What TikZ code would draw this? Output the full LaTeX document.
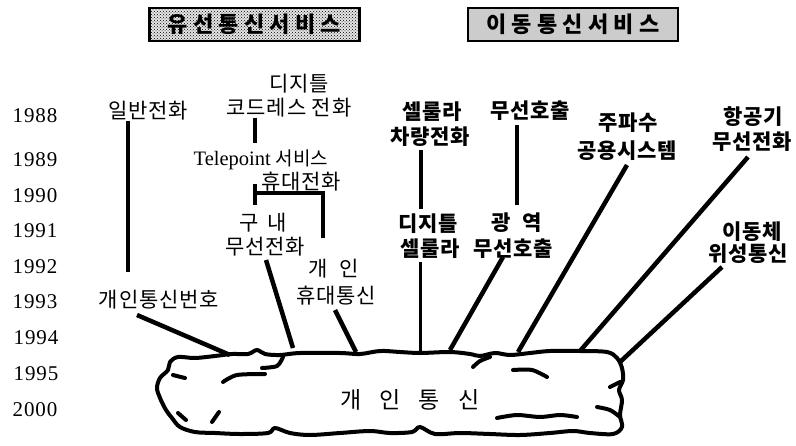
\documentclass[tikz,border=0pt]{standalone}
\usepackage{fontspec}
\setmainfont{Liberation Serif}
\newfontfamily\kr{Noto Sans CJK KR}
\usetikzlibrary{patterns}
\tikzset{
  yr/.style={font=\fontsize{21}{24}\selectfont\addfontfeatures{LetterSpace=4}, inner sep=0pt},
  lbl/.style={font=\kr\fontsize{21}{25}\selectfont\addfontfeatures{LetterSpace=4}, inner sep=0pt},
  blbl/.style={font=\kr\bfseries\fontsize{21}{25}\selectfont\addfontfeatures{LetterSpace=4}, inner sep=0pt},
  conn/.style={line width=4.5pt},
  thinconn/.style={line width=3pt},
  cloudline/.style={line width=4pt, line join=round, line cap=round},
  hdrbox/.style={draw, line width=2.5pt, minimum width=210pt, minimum height=33pt, inner sep=0pt,
    font=\kr\bfseries\fontsize{22}{26}\selectfont\addfontfeatures{LetterSpace=24}},
}
\begin{document}
\begin{tikzpicture}[x=1pt,y=-1pt]
\useasboundingbox (0,0) rectangle (796,445);

% headers
\node[hdrbox, fill=black!10, postaction={pattern=crosshatch dots}] (hdr1) at (254.5,24.5) {유선통신서비스};
\node[hdrbox, fill=black!20] (hdr2) at (573,24.5) {이동통신서비스};

% years
\node[yr] (y1988) at (35,116) {1988};
\node[yr] (y1989) at (35,160) {1989};
\node[yr] (y1990) at (35,196) {1990};
\node[yr] (y1991) at (35,231) {1991};
\node[yr] (y1992) at (35,267) {1992};
\node[yr] (y1993) at (35,302) {1993};
\node[yr] (y1994) at (36,338) {1994};
\node[yr] (y1995) at (36,374) {1995};
\node[yr] (y2000) at (35,410) {2000};

% wired-side labels
\node[lbl] (ilban) at (148,111) {일반전화};
\node[lbl] (digital1) at (299,84) {디지틀};
\node[lbl] (cordless) at (289,108) {코드레스 전화};
\node[font=\fontsize{20.5}{24}\selectfont, inner sep=0pt] (telepoint) at (261,160) {Telepoint {\kr\fontsize{19}{22}\selectfont 서비스}};
\node[lbl] (hyudae) at (301,182) {휴대전화};
\node[lbl] (gunae) at (263,223) {구\hspace{9pt}내};
\node[lbl] (wireless1) at (265,247) {무선전화};
\node[lbl] (gaein) at (334,269) {개\hspace{12pt}인};
\node[lbl] (hyudaetong) at (336,296) {휴대통신};
\node[lbl] (pnum) at (159,300) {개인통신번호};

% mobile-side labels
\node[blbl] (cellular1) at (432,112) {셀룰라};
\node[blbl] (car) at (430,137) {차량전화};
\node[blbl] (digital2) at (428,224) {디지틀};
\node[blbl] (cellular2) at (430,249) {셀룰라};
\node[blbl] (paging) at (530,111) {무선호출};
\node[blbl] (wide) at (517,223) {광\hspace{12pt}역};
\node[blbl] (paging2) at (513,249) {무선호출};
\node[blbl] (trunk1) at (628,123) {주파수};
\node[blbl] (trunk2) at (627,151) {공용시스템};
\node[blbl] (air1) at (753,117) {항공기};
\node[blbl] (air2) at (752,142) {무선전화};
\node[blbl] (sat1) at (752,232) {이동체};
\node[blbl] (sat2) at (748,254) {위성통신};

% cloud
\draw[cloudline] plot[smooth cycle, tension=0.55] coordinates {
 (170,362) (178,357) (195,358) (215,356) (232,354) (248,354) (257,350) (265,354)
 (280,355) (300,353) (340,353) (360,354) (380,351) (400,352) (420,353) (450,352)
 (470,354) (480,356) (495,353) (510,355) (530,353) (550,351) (580,351) (607,352)
 (617,358) (622,368) (623,380) (619,390) (622,400) (620,415) (622,427) (613,434)
 (590,433) (573,431) (550,433) (520,435) (490,434) (460,433) (435,434) (420,427)
 (412,432) (390,433) (370,431) (340,433) (310,435) (290,433) (275,428) (268,433)
 (240,434) (215,433) (195,432) (180,427) (172,418) (166,410) (160,398) (157,388)
 (160,378) (168,370)};
\draw[cloudline] plot[smooth, tension=0.5] coordinates {(223,382) (237,375) (265,374)};
\draw[cloudline] plot[smooth, tension=0.5] coordinates {(262,368) (277,366) (283,357)};
\draw[cloudline] (173,375) -- (185,378);
\draw[cloudline] (178,413) -- (186,420);
\draw[cloudline] (219,412) -- (212,422);
\draw[cloudline] plot[smooth, tension=0.5] coordinates {(473,367) (480,361) (490,357)};
\draw[cloudline] plot[smooth, tension=0.5] coordinates {(513,370) (532,370) (547,377)};
\draw[cloudline] plot[smooth, tension=0.5] coordinates {(497,418) (517,415) (540,417) (560,415) (577,417)};
\draw[cloudline] plot[smooth, tension=0.5] coordinates {(597,407) (610,410) (620,417)};
\draw[cloudline] (610,387) -- (620,382);
\node[font=\kr\fontsize{23}{26}\selectfont, inner sep=0pt] (pcs) at (410,400)
  {개\hspace{18pt}인\hspace{18pt}통\hspace{18pt}신};

% connector end points
\coordinate (ilbanEnd) at (128,272);
\coordinate (cordEnd) at (255,143);
\coordinate (tpTickTop) at (255,184);
\coordinate (tpTickBot) at (255,205);
\coordinate (tpL) at (255,193);
\coordinate (tpR) at (323,193);
\coordinate (tpRend) at (323,238);
\coordinate (w1Start) at (266,260);
\coordinate (w1End) at (293,348);
\coordinate (htStart) at (335,310);
\coordinate (htEnd) at (356,352);
\coordinate (pnStart) at (137,315);
\coordinate (pnEnd) at (230,355);
\coordinate (carX) at (421,0);
\coordinate (cellEnd) at (420,352);
\coordinate (pagX) at (517,0);
\coordinate (p2Start) at (503,257);
\coordinate (p2End) at (450,350);
\coordinate (trStart) at (627,165);
\coordinate (trEnd) at (518,352);
\coordinate (airStart) at (748,157);
\coordinate (airEnd) at (580,351);
\coordinate (satStart) at (722,267);
\coordinate (satEnd) at (620,362);

% connectors
\draw[line width=4pt] (ilban.south -| ilbanEnd) -- (ilbanEnd);
\draw[line width=4pt] (cordless.south -| cordEnd) -- (cordEnd);
\draw[line width=4pt] (tpTickTop) -- (tpTickBot);
\draw[line width=4pt] (tpL) -- (tpR) -- (tpRend);
\draw[conn] (w1Start) -- (w1End);
\draw[conn] (htStart) -- (htEnd);
\draw[conn] (pnStart) -- (pnEnd);
\draw[line width=4pt] ([yshift=-3pt]car.south -| carX) -- ([yshift=5pt]digital2.north -| carX);
\draw[thinconn] ([yshift=-3pt]cellular2.south -| cellEnd) -- (cellEnd);
\draw[line width=4pt] ([yshift=-4pt]paging.south -| pagX) -- ([yshift=8pt]wide.north -| pagX);
\draw[conn] (p2Start) -- (p2End);
\draw[conn] (trStart) -- (trEnd);
\draw[conn] (airStart) -- (airEnd);
\draw[conn] (satStart) -- (satEnd);
\end{tikzpicture}
\end{document}
